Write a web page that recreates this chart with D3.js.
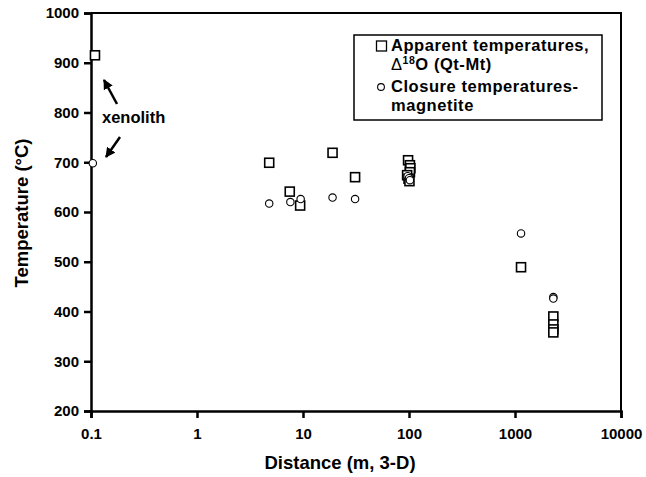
<!DOCTYPE html>
<html><head><meta charset="utf-8">
<script src="https://cdn.jsdelivr.net/npm/d3@7"></script>
<style>body{margin:0;background:#fff}svg{display:block}text{font-family:"Liberation Sans",Arial,sans-serif;font-weight:bold;fill:#000}</style>
</head><body><svg id="c" width="646" height="477"></svg>
<script>
// Apparent temperatures (squares)
const apparentDist = [0.109, 4.8, 7.5, 9.4, 19, 31, 98, 102, 103, 102, 96, 99, 101, 1140, 2300, 2300, 2300, 2300];
const apparentTemp = [915, 699, 641, 613, 719, 670, 704, 694, 688, 680, 674, 667, 662, 489, 390, 374, 364, 358];
// Closure temperatures (circles)
const closureDist = [0.104, 4.8, 7.6, 9.5, 19, 31, 97, 100, 102, 1140, 2300, 2300];
const closureTemp = [698, 617, 620, 626, 629, 626, 672, 668, 664, 557, 429, 426];
const xTicks = [0.1, 1, 10, 100, 1000, 10000];
const yTicks = [200, 300, 400, 500, 600, 700, 800, 900, 1000];

const svg = d3.select("#c");
const L = 91, R = 621, T = 13, B = 411;
const x = d3.scaleLog().domain([0.1, 10000]).range([L, R]);
const y = d3.scaleLinear().domain([200, 1000]).range([B, T]);

// frame top/right
svg.append("path").attr("d", `M${L},${T}H${R}V${B}`).attr("fill","none").attr("stroke","#000").attr("stroke-width",2);

const xAxis = svg.append("g").attr("transform",`translate(0,${B})`)
  .call(d3.axisBottom(x).tickValues(xTicks).tickFormat(d => String(d)).tickSize(7).tickPadding(10));
const yAxis = svg.append("g").attr("transform",`translate(${L},0)`)
  .call(d3.axisLeft(y).tickValues(yTicks).tickFormat(d => String(d)).tickSize(7).tickPadding(5));
[xAxis, yAxis].forEach(g => {
  g.select(".domain").attr("stroke","#000").attr("stroke-width",2.5);
  g.selectAll(".tick line").attr("stroke","#000").attr("stroke-width",2.5);
  g.selectAll("text").style("font-size","15px").style("font-family","'Liberation Sans',Arial,sans-serif").style("font-weight","bold").attr("fill","#000");
});

// axis titles
svg.append("text").attr("x", 340).attr("y", 469).attr("text-anchor","middle").style("font-size","18.5px").text("Distance (m, 3-D)");
svg.append("text").attr("transform","translate(28,213) rotate(-90)").attr("text-anchor","middle").style("font-size","18.5px").text("Temperature (°C)");

// markers
const sq = 9;
svg.append("g").selectAll("rect").data(apparentDist.map((d,i)=>[d, apparentTemp[i]])).join("rect")
  .attr("x", d => x(d[0]) - sq/2).attr("y", d => y(d[1]) - sq/2).attr("width", sq).attr("height", sq)
  .attr("fill","#fff").attr("stroke","#000").attr("stroke-width",1.6);
svg.append("g").selectAll("circle").data(closureDist.map((d,i)=>[d, closureTemp[i]])).join("circle")
  .attr("cx", d => x(d[0])).attr("cy", d => y(d[1])).attr("r", 3.7)
  .attr("fill","#fff").attr("stroke","#000").attr("stroke-width",1.1);

// xenolith annotation
svg.append("text").attr("x", 102).attr("y", 123).style("font-size","16.5px").text("xenolith");
svg.append("defs").append("marker").attr("id","ah").attr("viewBox","0 0 10 10").attr("refX",9).attr("refY",5)
  .attr("markerWidth",4).attr("markerHeight",4).attr("orient","auto")
  .append("path").attr("d","M0,0L10,5L0,10Z").attr("fill","#000");
svg.append("line").attr("x1",117).attr("y1",104).attr("x2",104).attr("y2",80).attr("stroke","#000").attr("stroke-width",2.5).attr("marker-end","url(#ah)");
svg.append("line").attr("x1",120).attr("y1",137).attr("x2",106).attr("y2",157).attr("stroke","#000").attr("stroke-width",2.5).attr("marker-end","url(#ah)");

// legend
const lg = svg.append("g");
const fs = "16.5px", ls = "0.55px";
lg.append("rect").attr("x",354).attr("y",35).attr("width",248).attr("height",85).attr("fill","#fff").attr("stroke","#000").attr("stroke-width",1.5);
lg.append("rect").attr("x",376.5).attr("y",41).attr("width",10).attr("height",10).attr("fill","#fff").attr("stroke","#000").attr("stroke-width",1.3);
lg.append("text").attr("x",391).attr("y",51).style("font-size",fs).style("letter-spacing",ls).text("Apparent temperatures,");
const t2 = lg.append("text").attr("x",391).attr("y",70).style("font-size",fs).style("letter-spacing",ls);
t2.append("tspan").style("font-weight","normal").text("Δ");
t2.append("tspan").attr("dy",-6).style("font-size","10.5px").text("18");
t2.append("tspan").attr("dy",6).text("O (Qt-Mt)");
lg.append("circle").attr("cx",381).attr("cy",87).attr("r",3.4).attr("fill","#fff").attr("stroke","#000").attr("stroke-width",1.1);
lg.append("text").attr("x",391).attr("y",92).style("font-size",fs).style("letter-spacing",ls).text("Closure temperatures-");
lg.append("text").attr("x",391).attr("y",111).style("font-size",fs).style("letter-spacing",ls).text("magnetite");
</script></body></html>
